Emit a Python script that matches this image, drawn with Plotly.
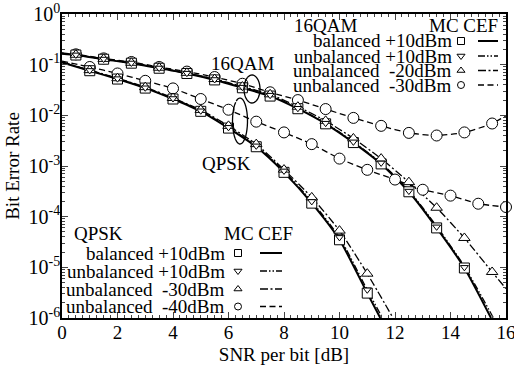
import plotly.graph_objects as go
import math

# ---------------- data ----------------
# 16QAM, Monte-Carlo markers (x in dB)
qam_mc_x = [0.5, 1.5, 2.5, 3.5, 4.5, 5.5, 6.5, 7.5, 8.5, 9.5, 10.5, 11.5, 12.5, 13.5, 14.5]
qam_mc_x_ext = qam_mc_x + [15.5]
qam_bal_mc = [0.155, 0.128, 0.107, 0.085, 0.067, 0.050, 0.035, 0.024, 0.0135, 0.0068, 0.0029, 0.0011, 3.1e-4, 6.0e-5, 9.7e-6]
qam_unb10_mc = [0.156, 0.129, 0.108, 0.086, 0.068, 0.051, 0.036, 0.025, 0.0138, 0.0070, 0.0030, 0.00115, 3.2e-4, 6.3e-5, 1.0e-5]
qam_unb20_mc = [0.157, 0.130, 0.109, 0.087, 0.069, 0.052, 0.037, 0.026, 0.0148, 0.0078, 0.0035, 0.0014, 4.8e-4, 1.5e-4, 3.8e-5, 8.1e-6]
qam_unb30_mc = [0.160, 0.133, 0.113, 0.090, 0.073, 0.057, 0.042, 0.0285, 0.020, 0.0133, 0.0089, 0.0062, 0.0045, 0.0040, 0.0046, 0.0069]

# 16QAM, closed-form (CEF) curves
qam_bal_cef_x = [0, 0.5, 1.5, 2.5, 3.5, 4.5, 5.5, 6.5, 7.5, 8.5, 9.5, 10.5, 11.5, 12.5, 13.5, 14.5, 15.46]
qam_bal_cef = [0.165, 0.155, 0.128, 0.107, 0.085, 0.067, 0.050, 0.035, 0.024, 0.0135, 0.0068, 0.0029, 0.0011, 3.1e-4, 6.0e-5, 9.7e-6, 1.0e-6]
qam_unb10_cef_x = [0, 0.5, 1.5, 2.5, 3.5, 4.5, 5.5, 6.5, 7.5, 8.5, 9.5, 10.5, 11.5, 12.5, 13.5, 14.5, 15.55]
qam_unb10_cef = [0.166, 0.156, 0.129, 0.108, 0.086, 0.068, 0.051, 0.036, 0.025, 0.0138, 0.0070, 0.0030, 0.00115, 3.3e-4, 6.5e-5, 1.05e-5, 1.0e-6]
qam_unb20_cef_x = [0, 0.5, 1.5, 2.5, 3.5, 4.5, 5.5, 6.5, 7.5, 8.5, 9.5, 10.5, 11.5, 12.5, 13.5, 14.5, 15.5, 16]
qam_unb20_cef = [0.167, 0.157, 0.130, 0.109, 0.087, 0.069, 0.052, 0.037, 0.026, 0.0148, 0.0078, 0.0035, 0.0014, 4.8e-4, 1.5e-4, 3.8e-5, 8.1e-6, 3.8e-6]
qam_unb30_cef_x = [0, 0.5, 1.5, 2.5, 3.5, 4.5, 5.5, 6.5, 7.5, 8.5, 9.5, 10.5, 11.5, 12.5, 13.5, 14.5, 15.5, 16]
qam_unb30_cef = [0.170, 0.160, 0.133, 0.113, 0.090, 0.073, 0.057, 0.042, 0.0285, 0.020, 0.0133, 0.0089, 0.0062, 0.0045, 0.0040, 0.0046, 0.0069, 0.0098]

# QPSK, Monte-Carlo markers
qpsk_mc_x = [1, 2, 3, 4, 5, 6, 7, 8, 9, 10, 11]
qpsk_bal_mc = [0.076, 0.052, 0.0345, 0.021, 0.012, 0.0056, 0.0024, 7.5e-4, 1.85e-4, 3.5e-5, 3.1e-6]
qpsk_unb10_mc = [0.077, 0.053, 0.035, 0.0215, 0.0123, 0.0058, 0.0025, 8.0e-4, 2.0e-4, 3.9e-5, 3.6e-6]
qpsk_unb30_mc = [0.078, 0.054, 0.036, 0.022, 0.0128, 0.0062, 0.0027, 8.5e-4, 2.4e-4, 5.3e-5, 7.5e-6]
qpsk_unb40_mc_x = [1, 2, 3, 4, 5, 6, 7, 8, 9, 10, 11, 12, 13, 14, 15, 16]
qpsk_unb40_mc = [0.090, 0.067, 0.048, 0.034, 0.021, 0.0129, 0.0075, 0.0046, 0.0027, 0.0014, 8.4e-4, 5.4e-4, 3.4e-4, 2.6e-4, 1.8e-4, 1.55e-4]

# QPSK, closed-form curves
qpsk_bal_cef_x = [0, 1, 2, 3, 4, 5, 6, 7, 8, 9, 10, 11, 11.47]
qpsk_bal_cef = [0.110, 0.076, 0.052, 0.0345, 0.021, 0.012, 0.0056, 0.0024, 7.5e-4, 1.85e-4, 3.5e-5, 3.1e-6, 1.0e-6]
qpsk_unb10_cef_x = [0, 1, 2, 3, 4, 5, 6, 7, 8, 9, 10, 11, 11.55]
qpsk_unb10_cef = [0.111, 0.077, 0.053, 0.035, 0.0215, 0.0123, 0.0058, 0.0025, 8.0e-4, 2.0e-4, 3.9e-5, 3.6e-6, 1.0e-6]
qpsk_unb30_cef_x = [0, 1, 2, 3, 4, 5, 6, 7, 8, 9, 10, 11, 11.93]
qpsk_unb30_cef = [0.112, 0.078, 0.054, 0.036, 0.022, 0.0128, 0.0062, 0.0027, 8.5e-4, 2.4e-4, 5.3e-5, 7.5e-6, 1.0e-6]
qpsk_unb40_cef_x = [0, 1, 2, 3, 4, 5, 6, 7, 8, 9, 10, 11, 12, 13, 14, 15, 16]
qpsk_unb40_cef = [0.118, 0.090, 0.067, 0.048, 0.034, 0.021, 0.0129, 0.0075, 0.0046, 0.0027, 0.0014, 8.4e-4, 5.4e-4, 3.4e-4, 2.6e-4, 1.8e-4, 1.55e-4]

x_ticks = [0, 2, 4, 6, 8, 10, 12, 14, 16]
y_tick_exps = [0, -1, -2, -3, -4, -5, -6]

qam_legend_labels = ["balanced +10dBm", "unbalanced +10dBm", "unbalanced  -20dBm", "unbalanced  -30dBm"]
qpsk_legend_labels = ["balanced +10dBm", "unbalanced +10dBm", "unbalanced  -30dBm", "unbalanced  -40dBm"]

# ---------------- styles ----------------
FONT = "Liberation Serif, Times New Roman, serif"
TXT = 19
SOLID = "solid"
DDOT = "7px,2px,1.5px,2px,1.5px,2px"
DDASH = "8px,2.5px,2px,2.5px"
DASH = "6px,3.5px"
styles = [  # (dash, width, symbol, msize)
    (SOLID, 2.0, "square", 10),
    (DDOT, 1.3, "triangle-down", 7),
    (DDASH, 1.3, "triangle-up", 10),
    (DASH, 1.3, "circle", 11),
]

fig = go.Figure()

cef_sets = [
    (qam_bal_cef_x, qam_bal_cef, 0), (qam_unb10_cef_x, qam_unb10_cef, 1),
    (qam_unb20_cef_x, qam_unb20_cef, 2), (qam_unb30_cef_x, qam_unb30_cef, 3),
    (qpsk_bal_cef_x, qpsk_bal_cef, 0), (qpsk_unb10_cef_x, qpsk_unb10_cef, 1),
    (qpsk_unb30_cef_x, qpsk_unb30_cef, 2), (qpsk_unb40_cef_x, qpsk_unb40_cef, 3),
]
for xs, ys, k in cef_sets:
    d, w, _, _ = styles[k]
    fig.add_trace(go.Scatter(x=xs, y=ys, mode="lines", showlegend=False,
                             line=dict(color="black", width=w, dash=d, shape="spline", smoothing=0.6),
                             hoverinfo="skip"))

mc_sets = [
    (qam_mc_x_ext, qam_unb30_mc, 3), (qpsk_unb40_mc_x, qpsk_unb40_mc, 3),
    (qam_mc_x, qam_bal_mc, 0), (qpsk_mc_x, qpsk_bal_mc, 0),
    (qam_mc_x_ext, qam_unb20_mc, 2), (qpsk_mc_x, qpsk_unb30_mc, 2),
    (qam_mc_x, qam_unb10_mc, 1), (qpsk_mc_x, qpsk_unb10_mc, 1),
]
for xs, ys, k in mc_sets:
    _, _, sym, ms = styles[k]
    fig.add_trace(go.Scatter(x=xs, y=ys, mode="markers", showlegend=False, cliponaxis=False,
                             marker=dict(symbol=sym, size=ms, color="white",
                                         line=dict(color="black", width=1)),
                             hoverinfo="skip"))

# ---------------- in-plot legends (overlay axis, 0..1) ----------------
def px2x(px):
    return (px - 62) / 444.0

def py2y(py):
    return (318 - py) / 304.0

legend_defs = [
    (qam_legend_labels, [41, 56, 70.5, 85], 454, 461, 478, 498, "16QAM", 292, 25, 500),
    (qpsk_legend_labels, [253, 271, 289, 306.5], 227, 238, 260, 282, "QPSK", 72, 234, 295),
]
annotations = []
for labels, rows, txr, mkx, l0, l1, head, hx, hy, mcr in legend_defs:
    annotations.append(dict(text=head, x=px2x(hx), y=py2y(hy), xref="paper", yref="paper",
                            xanchor="left", yanchor="middle", showarrow=False,
                            font=dict(family=FONT, size=TXT, color="black")))
    annotations.append(dict(text="MC CEF", x=px2x(mcr), y=py2y(hy), xref="paper", yref="paper",
                            xanchor="right", yanchor="middle", showarrow=False,
                            font=dict(family=FONT, size=TXT, color="black")))
    for i, (lab, ry) in enumerate(zip(labels, rows)):
        d, w, sym, ms = styles[i]
        annotations.append(dict(text=lab.replace("  ", "&nbsp; "), x=px2x(txr), y=py2y(ry),
                                xref="paper", yref="paper", xanchor="right", yanchor="middle",
                                showarrow=False, font=dict(family=FONT, size=TXT, color="black")))
        fig.add_trace(go.Scatter(x=[px2x(mkx)], y=[py2y(ry)], xaxis="x2", yaxis="y2",
                                 mode="markers", showlegend=False, hoverinfo="skip",
                                 marker=dict(symbol=sym, size=7, color="white",
                                             line=dict(color="black", width=1))))
        fig.add_trace(go.Scatter(x=[px2x(l0), px2x(l1)], y=[py2y(ry), py2y(ry)], xaxis="x2", yaxis="y2",
                                 mode="lines", showlegend=False, hoverinfo="skip",
                                 line=dict(color="black", width=w, dash=d)))

# curve group labels
annotations.append(dict(text="16QAM", x=px2x(242), y=py2y(63), xref="paper", yref="paper",
                        xanchor="center", yanchor="middle", showarrow=False,
                        font=dict(family=FONT, size=TXT, color="black")))
annotations.append(dict(text="QPSK", x=px2x(226), y=py2y(163), xref="paper", yref="paper",
                        xanchor="center", yanchor="middle", showarrow=False,
                        font=dict(family=FONT, size=TXT, color="black")))

def arc_path(cx, cy, rx, ry, t0, t1, n=40):
    pts = []
    for i in range(n + 1):
        t = math.radians(t0 + (t1 - t0) * i / n)
        px = cx + rx * math.cos(t)
        py = cy - ry * math.sin(t)
        pts.append((px2x(px), py2y(py)))
    return "M " + " L ".join(f"{a:.5f},{b:.5f}" for a, b in pts)

shapes = [
    dict(type="path", path=arc_path(252, 89, 8, 14, 125, -235), xref="paper", yref="paper",
         line=dict(color="black", width=1.3)),
    dict(type="path", path=arc_path(240, 121, 7.5, 23, 120, -235), xref="paper", yref="paper",
         line=dict(color="black", width=1.3)),
]

fig.update_layout(
    width=514, height=372,
    margin=dict(l=62, r=8, t=14, b=54, autoexpand=False),
    paper_bgcolor="white", plot_bgcolor="white",
    font=dict(family=FONT, size=TXT, color="black"),
    annotations=annotations, shapes=shapes,
    xaxis=dict(range=[0, 16], tickvals=x_ticks, ticks="inside", ticklen=6, tickwidth=1,
               showline=True, linecolor="black", linewidth=1.5, mirror="allticks",
               showgrid=False, zeroline=False, automargin=False, ticklabeloverflow="allow",
               ticklabelstandoff=-4,
               minor=dict(dtick=0.25, ticks="inside", ticklen=3, tickwidth=1, showgrid=False),
               tickfont=dict(family=FONT, size=19),
               title=dict(text="SNR per bit [dB]", font=dict(family=FONT, size=TXT), standoff=6)),
    yaxis=dict(type="log", range=[-6, 0], tickvals=[10 ** e for e in y_tick_exps],
               ticktext=[f"10<sup>{e}</sup>" for e in y_tick_exps],
               ticks="inside", ticklen=6, tickwidth=1,
               showline=True, linecolor="black", linewidth=1.5, mirror="allticks",
               showgrid=False, zeroline=False, automargin=False, ticklabeloverflow="allow",
               ticklabelstandoff=-4,
               minor=dict(dtick="D1", ticks="inside", ticklen=3, tickwidth=1, showgrid=False),
               tickfont=dict(family=FONT, size=20),
               title=dict(text="Bit Error Rate", font=dict(family=FONT, size=TXT), standoff=4)),
    xaxis2=dict(overlaying="x", range=[0, 1], visible=False, fixedrange=True),
    yaxis2=dict(overlaying="y", range=[0, 1], visible=False, fixedrange=True),
    showlegend=False,
)

fig.write_html("out.html", config={"displayModeBar": False},
               post_script="document.body.style.margin='0';document.body.style.padding='0';")
